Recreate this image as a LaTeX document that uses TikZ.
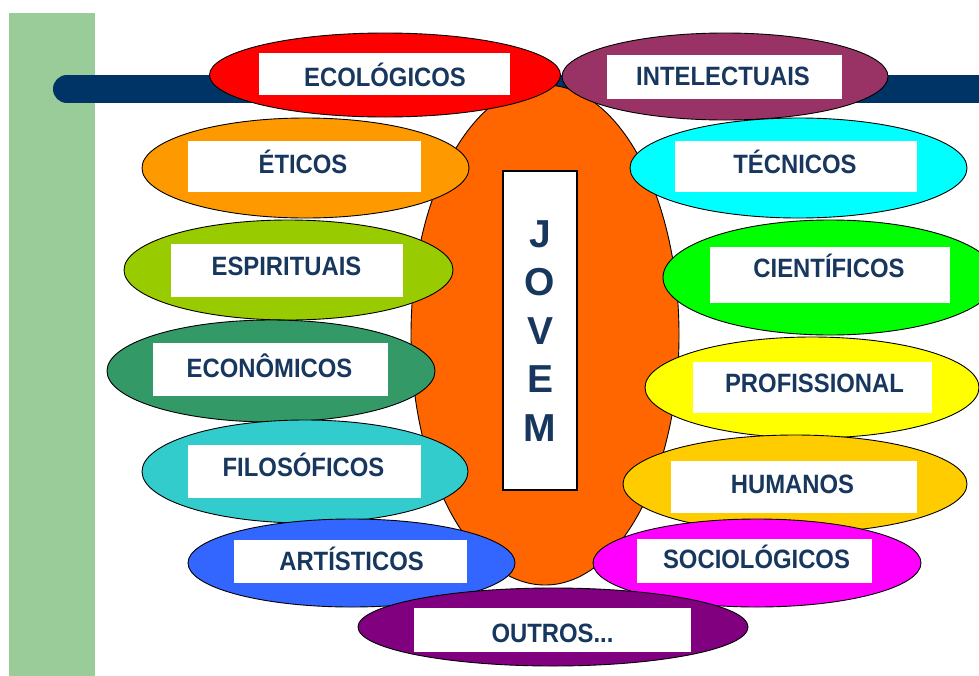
\documentclass[tikz,border=0pt]{standalone}
\usepackage{fontspec}
\newfontfamily\lblfont{Liberation Sans}[FakeStretch=0.9]
\newfontfamily\jvfont{Liberation Sans}
\usetikzlibrary{shapes.geometric}
\definecolor{txtnavy}{RGB}{23,55,94}
\definecolor{barnavy}{RGB}{0,51,102}
\definecolor{bargreen}{RGB}{153,204,153}
\definecolor{cEco}{RGB}{255,0,0}
\definecolor{cInt}{RGB}{153,51,102}
\definecolor{cEti}{RGB}{255,153,0}
\definecolor{cTec}{RGB}{0,255,255}
\definecolor{cEsp}{RGB}{153,204,0}
\definecolor{cCie}{RGB}{0,255,0}
\definecolor{cEcn}{RGB}{51,153,102}
\definecolor{cPro}{RGB}{255,255,0}
\definecolor{cFil}{RGB}{51,204,204}
\definecolor{cHum}{RGB}{255,204,0}
\definecolor{cArt}{RGB}{51,102,255}
\definecolor{cSoc}{RGB}{255,0,255}
\definecolor{cOut}{RGB}{128,0,128}
\definecolor{cJov}{RGB}{255,102,0}
\tikzset{
  oval/.style={ellipse, draw=black, line width=0.9pt, inner sep=0pt},
  wbox/.style={rectangle, fill=white, draw=none, inner sep=0pt},
  lbl/.style={anchor=base, inner sep=0pt, text=txtnavy, font=\lblfont\bfseries\fontsize{26.5}{26.5}\selectfont},
}
\begin{document}
\begin{tikzpicture}[x=1pt,y=-1pt]
\useasboundingbox (0,0) rectangle (979,675);
% side bars
\fill[bargreen] (9,13) rectangle (95,680);
\coordinate (barL) at (67,89);
\coordinate (barR) at (1000,89);
\draw[barnavy, line width=28pt, line cap=round] (barL) -- (barR);
% central shape
\node[oval, fill=cJov, minimum width=268pt, minimum height=500pt] (jov) at (545,335) {};
\node[rectangle, fill=white, draw=black, line width=1.2pt, minimum width=74pt, minimum height=319pt, inner sep=0pt] (jbox) at (540,330.5) {};
\node[text=txtnavy, align=center, inner sep=0pt, font=\jvfont\bfseries\fontsize{39}{48.5}\selectfont] (jtxt) at (540,331) {J\\O\\V\\E\\M};
% ECOLOGICOS
\node[oval, fill=cEco, minimum width=351pt, minimum height=84pt] (eco) at (385,75) {};
\node[wbox, minimum width=251pt, minimum height=42pt] (ecob) at (384.5,74) {};
\node[lbl] (ecot) at (385,86) {ECOLÓGICOS};
% INTELECTUAIS
\node[oval, fill=cInt, minimum width=326pt, minimum height=87pt] (int) at (725,76.5) {};
\node[wbox, minimum width=235pt, minimum height=44pt] (intb) at (724.5,77) {};
\node[lbl] (intt) at (723,85) {INTELECTUAIS};
% ETICOS
\node[oval, fill=cEti, minimum width=327pt, minimum height=100pt] (eti) at (305.5,168) {};
\node[wbox, minimum width=233pt, minimum height=51pt] (etib) at (304.5,166.5) {};
\node[lbl] (etit) at (303,173) {ÉTICOS};
% TECNICOS
\node[oval, fill=cTec, minimum width=337pt, minimum height=100pt] (tec) at (798.5,168) {};
\node[wbox, minimum width=242pt, minimum height=51pt] (tecb) at (796,166.5) {};
\node[lbl] (tect) at (795,173) {TÉCNICOS};
% ESPIRITUAIS
\node[oval, fill=cEsp, minimum width=329pt, minimum height=100pt] (esp) at (288.5,270) {};
\node[wbox, minimum width=232pt, minimum height=53pt] (espb) at (287,270.5) {};
\node[lbl] (espt) at (286.5,275) {ESPIRITUAIS};
% CIENTIFICOS
\node[oval, fill=cCie, minimum width=334pt, minimum height=115pt] (cie) at (830,277.5) {};
\node[wbox, minimum width=240pt, minimum height=56pt] (cieb) at (830,275) {};
\node[lbl] (ciet) at (829,277) {CIENTÍFICOS};
% ECONOMICOS
\node[oval, fill=cEcn, minimum width=328pt, minimum height=102pt] (ecn) at (271,371) {};
\node[wbox, minimum width=235pt, minimum height=53pt] (ecnb) at (270.5,369.5) {};
\node[lbl] (ecnt) at (269.5,377) {ECONÔMICOS};
% PROFISSIONAL
\node[oval, fill=cPro, minimum width=334pt, minimum height=101pt] (pro) at (812,387.5) {};
\node[wbox, minimum width=239pt, minimum height=51pt] (prob) at (812.5,387.5) {};
\node[lbl] (prot) at (814.5,392) {PROFISSIONAL};
% FILOSOFICOS
\node[oval, fill=cFil, minimum width=326pt, minimum height=103pt] (fil) at (305,471.5) {};
\node[wbox, minimum width=233pt, minimum height=53pt] (filb) at (304.5,471.5) {};
\node[lbl] (filt) at (303.5,476) {FILOSÓFICOS};
% HUMANOS
\node[oval, fill=cHum, minimum width=344pt, minimum height=98pt] (hum) at (795,484) {};
\node[wbox, minimum width=246pt, minimum height=52pt] (humb) at (794,487) {};
\node[lbl] (humt) at (792.5,493) {HUMANOS};
% ARTISTICOS
\node[oval, fill=cArt, minimum width=327pt, minimum height=88pt] (art) at (351.5,563) {};
\node[wbox, minimum width=233pt, minimum height=43pt] (artb) at (350.5,561.5) {};
\node[lbl] (artt) at (351.5,570) {ARTÍSTICOS};
% SOCIOLOGICOS
\node[oval, fill=cSoc, minimum width=328pt, minimum height=88pt] (soc) at (757,563) {};
\node[wbox, minimum width=235pt, minimum height=44pt] (socb) at (754.5,561) {};
\node[lbl] (soct) at (756.5,568) {SOCIOLÓGICOS};
% OUTROS
\node[oval, fill=cOut, minimum width=390pt, minimum height=78pt] (out) at (553,627) {};
\node[wbox, minimum width=277pt, minimum height=44pt] (outb) at (552.5,630) {};
\node[lbl] (outt) at (552.5,642) {OUTROS...};
\end{tikzpicture}
\end{document}
